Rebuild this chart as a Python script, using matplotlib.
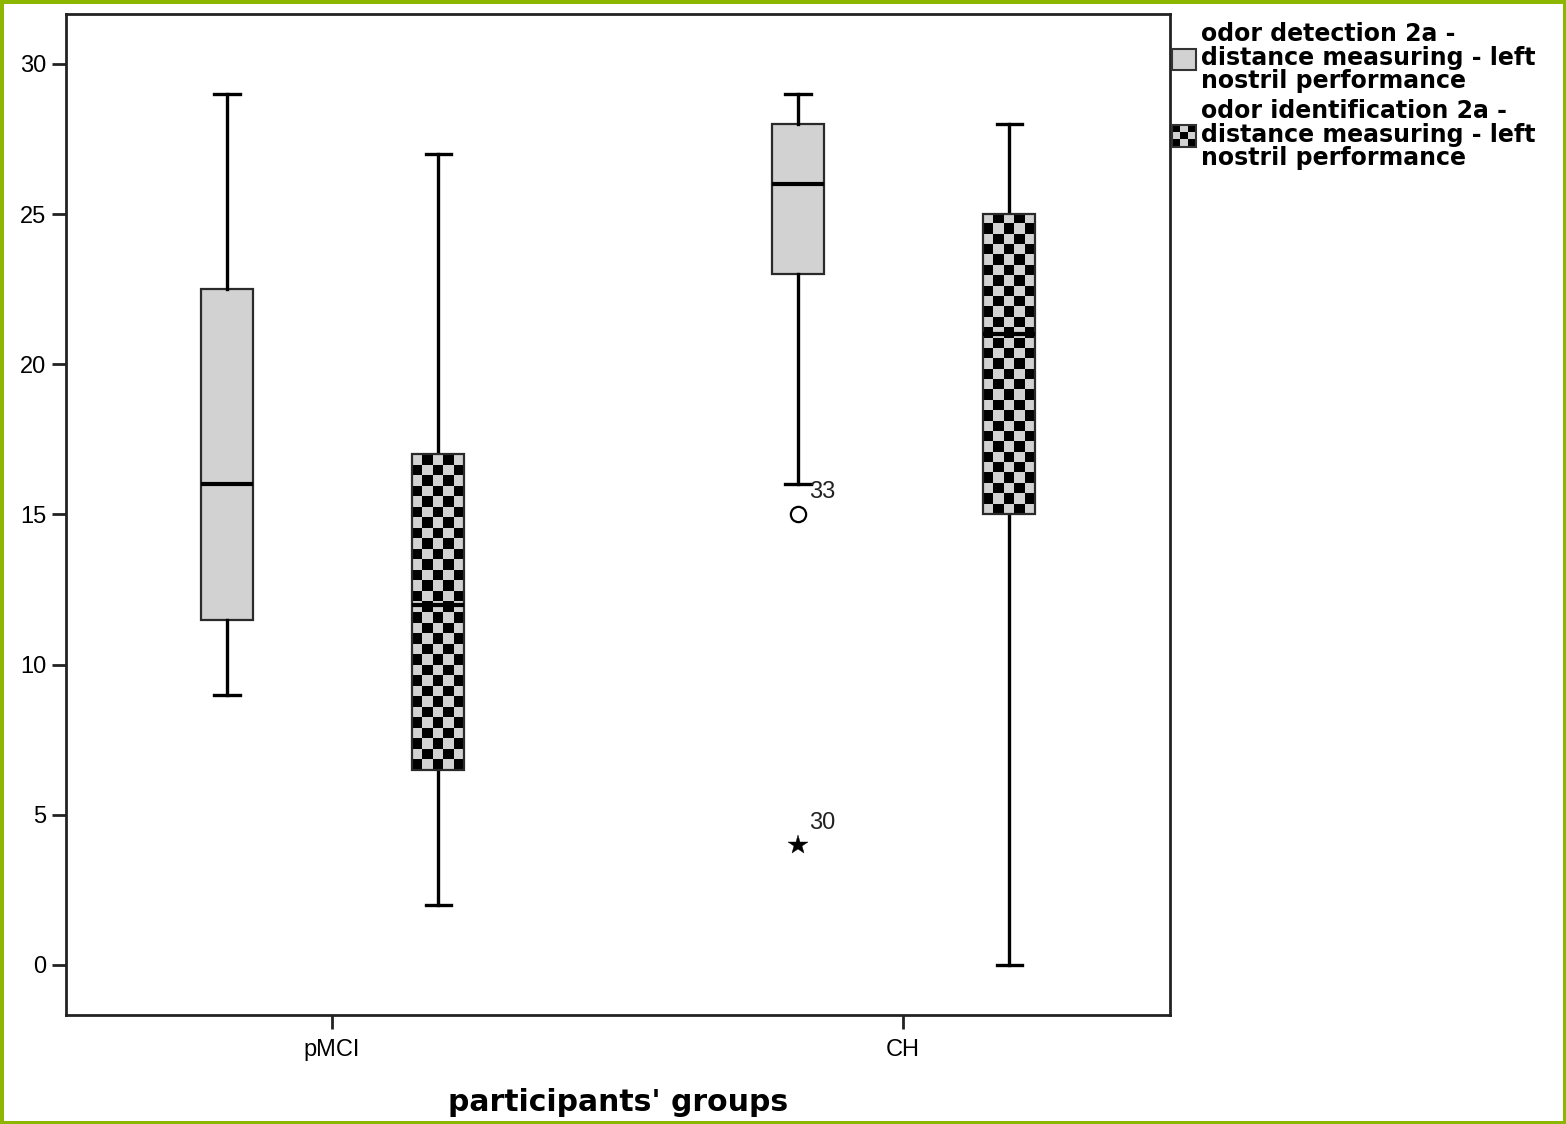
import matplotlib
matplotlib.use('Agg')
import matplotlib.pyplot as plt
import numpy as np
from matplotlib.legend_handler import HandlerBase
from matplotlib.patches import Rectangle, Patch
from matplotlib.colors import ListedColormap

groups = ['pMCI', 'CH']
series_labels = ['odor detection 2a -\ndistance measuring - left\nnostril performance',
                 'odor identification 2a -\ndistance measuring - left\nnostril performance']
# per group: [whislo, q1, med, q3, whishi]
detection = [[9, 11.5, 16, 22.5, 29], [16, 23, 26, 28, 29]]
identification = [[2, 6.5, 12, 17, 27], [0, 15, 21, 25, 28]]
# outliers of detection series in CH group
outlier_group = [1, 1]
outlier_values = [15, 4]
outlier_ids = ['33', '30']
outlier_kinds = ['o', '*']
yticks = [0, 5, 10, 15, 20, 25, 30]

GREY = '#d2d2d2'
TICKFONT = 'Liberation Sans'

fig = plt.figure(figsize=(15.66, 11.24), dpi=100)
fig.patch.set_edgecolor('#8db600')
fig.patch.set_linewidth(5)
ax = fig.add_axes([66/1566, 1-1015/1124, (1170-66)/1566, (1015-14)/1124])

offsets = [-0.184, 0.186]
bw = 0.091
capw = 0.044

def stats(vals, label):
    lo, q1, med, q3, hi = vals
    return dict(whislo=lo, q1=q1, med=med, q3=q3, whishi=hi, fliers=[], label=label)

common = dict(widths=bw, capwidths=capw, patch_artist=True, showfliers=False,
              whiskerprops=dict(color='black', lw=2.4),
              capprops=dict(color='black', lw=2.4),
              medianprops=dict(color='black', lw=3, zorder=5))

x = np.arange(len(groups))
b1 = ax.bxp([stats(v, g) for v, g in zip(detection, groups)], positions=x + offsets[0],
            boxprops=dict(facecolor=GREY, edgecolor='#2a2a2a', lw=1.6), **common)
b2 = ax.bxp([stats(v, g) for v, g in zip(identification, groups)], positions=x + offsets[1],
            boxprops=dict(facecolor=GREY, edgecolor='#2a2a2a', lw=1.6, zorder=4), **common)

ax.set_xlim(-0.466, 1.4676)
ax.set_ylim(-1.665, 31.66)

# checker fill for identification boxes
cell_px = 10.5
for patch, v, xc in zip(b2['boxes'], identification, x + offsets[1]):
    x0, x1 = xc - bw/2, xc + bw/2
    y0, y1 = v[1], v[3]
    p0 = ax.transData.transform((x0, y0))
    p1 = ax.transData.transform((x1, y1))
    nc = max(1, int(round(abs(p1[0]-p0[0]) / cell_px)))
    nr = max(1, int(round(abs(p1[1]-p0[1]) / cell_px)))
    arr = np.add.outer(np.arange(nr), np.arange(nc)) % 2
    im = ax.imshow(arr, extent=[x0, x1, y0, y1], cmap=ListedColormap([GREY, 'black']),
                   interpolation='nearest', aspect='auto', zorder=3)
    im.set_clip_path(patch)
    patch.set_facecolor('none')

ax.set_xlim(-0.466, 1.4676)
ax.set_ylim(-1.665, 31.66)

# outliers
for g, val, lab, kind in zip(outlier_group, outlier_values, outlier_ids, outlier_kinds):
    xp = x[g] + offsets[0]
    if kind == 'o':
        ax.plot([xp], [val], marker='o', ms=11, mfc='none', mec='black', mew=1.6, ls='none')
    else:
        ax.plot([xp], [val], marker='*', ms=15, mfc='black', mec='black', mew=0.3, ls='none')
    ax.annotate(lab, (xp, val), xytext=(8, 16), textcoords='offset points',
                ha='left', va='center', fontsize=17, family=TICKFONT, color='#222222')

ax.set_xticks(x)
ax.set_xticklabels(groups, fontsize=17, family=TICKFONT)
ax.set_yticks(yticks)
ax.set_yticklabels([str(t) for t in yticks], fontsize=17, family=TICKFONT)
ax.tick_params(axis='both', length=10, width=2, color='#222222', pad=4)
ax.tick_params(axis='x', pad=7)
for s in ax.spines.values():
    s.set_linewidth(2)
    s.set_color('#222222')

ax.set_xlabel("participants' groups", fontsize=21.5, fontweight='bold',
              family='DejaVu Sans', labelpad=20)


class CheckerHandler(HandlerBase):
    def create_artists(self, legend, orig_handle, xdescent, ydescent, width, height, fontsize, trans):
        n = 3
        arts = []
        cw, ch = width / n, height / n
        for i in range(n):
            for j in range(n):
                c = 'black' if (i + j) % 2 == 0 else GREY
                arts.append(Rectangle((-xdescent + j*cw, -ydescent + i*ch), cw, ch,
                                      facecolor=c, edgecolor='none', transform=trans))
        arts.append(Rectangle((-xdescent, -ydescent), width, height, facecolor='none',
                              edgecolor='#333333', lw=1.5, transform=trans))
        return arts


class CheckerPatch(Patch):
    pass


h1 = Patch(facecolor=GREY, edgecolor='#333333', lw=1.5)
h2 = CheckerPatch()
leg = ax.legend([h1, h2], series_labels, loc='upper left', bbox_to_anchor=(1.0, 0.994),
                frameon=False, borderaxespad=0, borderpad=0.1, handlelength=1.0,
                handleheight=1.0, handletextpad=0.2, labelspacing=0.25,
                prop=dict(family='DejaVu Sans', weight='bold', size=17),
                handler_map={CheckerPatch: CheckerHandler()})
for t in leg.get_texts():
    t.set_linespacing(0.97)

fig.savefig('out.png', dpi=100, edgecolor=fig.get_edgecolor())
